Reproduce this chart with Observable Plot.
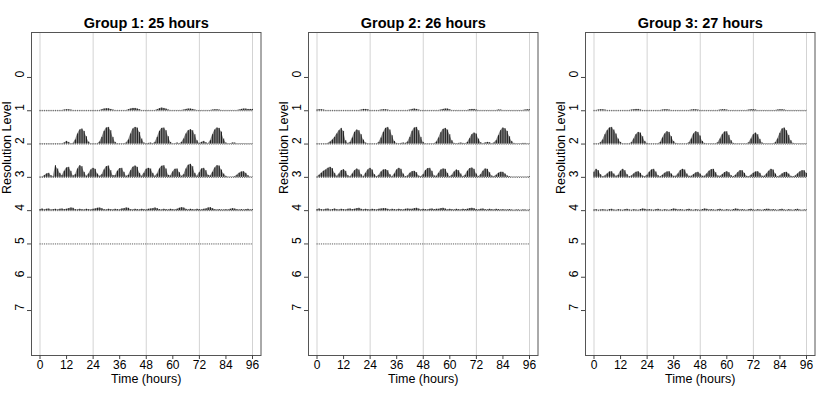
<!DOCTYPE html>
<html><head><meta charset="utf-8">
<script src="https://cdn.jsdelivr.net/npm/d3@7"></script>
<script src="https://cdn.jsdelivr.net/npm/@observablehq/plot@0.6"></script>
<style>body{margin:0;background:#fff} #row{display:flex;width:830px;height:395px}</style>
</head><body><div id="row"></div>
<script>
const titles = ["Group 1: 25 hours", "Group 2: 26 hours", "Group 3: 27 hours"];
const xTicks = [0, 12, 24, 36, 48, 60, 72, 84, 96];
const gridTicks = [0, 24, 48, 72, 96];
const levelTicks = [0, 1, 2, 3, 4, 5, 6, 7];
const times = d3.range(0, 97); // hourly sample positions
const baselineLevels = [[1, 2, 3, 4, 5], [1, 2, 3, 4, 5], [1, 2, 3, 4]];

// coefficient magnitudes (in level units), hourly, levels 1..4
const g1L1 = [.01,.01,.01,.01,.01,.01,.01,.01,.01,.01, .01,.02,.03,.03,.02,.01,.01,.01,.01,.01, .01,.01,.01,.01,.01,.01,.01,.01,.03,.05, .06,.06,.04,.02,.01,.01,.01,.01,.01,.01, .03,.05,.07,.07,.05,.03,.01,.01,.01,.01, .01,.01,.01,.03,.06,.08,.07,.05,.02,.01, .01,.01,.01,.01,.01,.02,.04,.05,.05,.04, .02,.01,.01,.01,.01,.01,.01,.01,.02,.03, .03,.02,.01,.01,.01,.01,.01,.01,.01,.01, .02,.04,.05,.05,.04,.04,.04];
const g1L2 = [.01,.01,.01,.01,.01,.01,.01,.01,.01,.01, .01,.03,.08,.05,.01,.02,.12,.30,.42,.45, .38,.22,.06,.01,.01,.01,.01,.06,.20,.38, .48,.50,.40,.20,.05,.01,.01,.01,.01,.03, .12,.30,.45,.50,.48,.35,.15,.03,.01,.02, .03,.01,.05,.20,.38,.47,.48,.40,.22,.05, .01,.01,.03,.01,.05,.15,.30,.40,.43,.40, .28,.10,.02,.05,.08,.04,.01,.10,.28,.42, .48,.47,.36,.15,.03,.01,.01,.03,.03,.01, .01,.01,.01,.01,.01,.01,.01];
const g1L3 = [.01,.01,.05,.10,.12,.05,.02,.35,.25,.12, .05,.18,.28,.30,.18,.04,.08,.25,.35,.32, .15,.03,.10,.22,.27,.24,.10,.03,.08,.22, .32,.34,.20,.05,.05,.18,.26,.27,.15,.03, .06,.20,.30,.34,.30,.12,.03,.12,.24,.27, .25,.12,.03,.10,.25,.33,.35,.25,.06,.04, .16,.24,.25,.14,.03,.08,.25,.36,.39,.32, .12,.03,.14,.25,.27,.20,.06,.04,.15,.28, .35,.34,.22,.10,.03,.01,.01,.01,.02,.06, .12,.16,.17,.12,.05,.01,.01];
const g1L4 = [.03,.05,.02,.04,.05,.02,.03,.04,.02,.04, .05,.03,.04,.06,.08,.07,.03,.02,.04,.03, .02,.04,.03,.02,.04,.05,.07,.08,.06,.03, .02,.04,.03,.02,.04,.03,.02,.05,.06,.08, .07,.03,.02,.04,.03,.02,.04,.03,.02,.04, .05,.06,.08,.06,.03,.02,.04,.03,.02,.04, .03,.02,.04,.07,.09,.08,.04,.02,.04,.03, .02,.04,.03,.02,.04,.05,.08,.09,.06,.03, .02,.03,.02,.02,.03,.02,.04,.06,.05,.03, .02,.03,.02,.03,.04,.02,.03];

const g2L1 = [.02,.03,.03,.02,.01,.01,.01,.01,.01,.01, .01,.01,.01,.01,.01,.01,.01,.01,.01,.01, .02,.04,.04,.03,.01,.01,.01,.01,.01,.02, .03,.03,.02,.01,.01,.01,.01,.01,.01,.01, .01,.01,.02,.04,.05,.04,.02,.01,.01,.01, .01,.01,.01,.01,.01,.01,.02,.04,.05,.05, .03,.01,.01,.01,.01,.01,.01,.01,.01,.03, .04,.04,.02,.01,.01,.01,.01,.01,.01,.01, .01,.01,.02,.02,.01,.01,.01,.01,.01,.01, .01,.01,.01,.01,.02,.03,.03];
const g2L2 = [.01,.01,.01,.01,.01,.02,.06,.12,.20,.30, .40,.47,.38,.10,.02,.05,.18,.35,.42,.40, .28,.12,.03,.01,.01,.01,.01,.01,.05,.18, .35,.47,.50,.42,.25,.08,.02,.01,.02,.03, .02,.06,.20,.38,.48,.50,.40,.20,.05,.01, .01,.01,.01,.01,.06,.18,.34,.44,.47,.42, .28,.10,.02,.01,.02,.03,.02,.01,.05,.16, .28,.33,.30,.15,.04,.01,.03,.05,.04,.01, .03,.10,.25,.40,.48,.46,.38,.22,.08,.02, .01,.01,.01,.02,.02,.01,.01];
const g2L3 = [.01,.06,.12,.18,.22,.27,.30,.26,.12,.03, .10,.20,.23,.18,.05,.02,.10,.20,.25,.22, .08,.02,.12,.22,.27,.22,.08,.02,.06,.16, .22,.23,.20,.08,.02,.10,.22,.27,.24,.10, .02,.04,.12,.17,.18,.14,.04,.02,.08,.20, .26,.27,.18,.04,.03,.12,.22,.25,.24,.12, .02,.06,.16,.22,.20,.10,.02,.06,.18,.26, .28,.24,.10,.02,.08,.18,.25,.24,.14,.04, .02,.06,.12,.15,.15,.10,.04,.02,.01,.01, .01,.01,.01,.01,.01,.01,.02];
const g2L4 = [.03,.05,.03,.02,.04,.05,.02,.03,.05,.03, .02,.04,.03,.02,.04,.05,.03,.04,.06,.07, .04,.02,.04,.03,.02,.04,.03,.02,.04,.05, .06,.06,.04,.02,.04,.03,.02,.04,.03,.02, .04,.05,.04,.04,.06,.07,.05,.02,.04,.03, .02,.04,.05,.03,.04,.04,.06,.07,.05,.02, .04,.03,.02,.04,.03,.02,.04,.03,.04,.06, .07,.06,.03,.02,.04,.05,.03,.02,.04,.03, .02,.04,.03,.02,.03,.02,.02,.03,.02,.01, .02,.02,.01,.02,.02,.01,.02];

const g3L1 = [.01,.01,.02,.03,.03,.02,.01,.01,.01,.01, .01,.01,.01,.01,.01,.01,.01,.02,.03,.04, .04,.02,.01,.01,.01,.01,.01,.01,.01,.01, .01,.02,.03,.03,.02,.01,.01,.01,.01,.01, .01,.01,.01,.01,.02,.03,.03,.02,.01,.01, .01,.01,.01,.01,.01,.01,.01,.02,.03,.03, .02,.01,.01,.01,.01,.01,.01,.01,.01,.01, .02,.03,.03,.02,.01,.01,.01,.01,.01,.01, .01,.01,.01,.02,.03,.03,.02,.01,.01,.01, .01,.01,.01,.01,.01,.01,.01];
const g3L2 = [.01,.01,.01,.04,.12,.28,.40,.48,.50,.42, .30,.15,.05,.01,.01,.01,.01,.04,.15,.28, .35,.33,.22,.08,.02,.01,.01,.01,.01,.01, .05,.18,.30,.37,.35,.22,.08,.02,.01,.01, .01,.01,.01,.04,.15,.30,.37,.35,.24,.08, .02,.01,.01,.01,.01,.01,.04,.15,.28,.36, .37,.26,.10,.02,.01,.01,.01,.01,.01,.01, .04,.15,.28,.33,.28,.14,.03,.01,.01,.01, .01,.01,.04,.15,.32,.45,.48,.40,.26,.10, .02,.01,.01,.01,.01,.01,.01];
const g3L3 = [.15,.24,.20,.08,.02,.04,.10,.16,.17,.10, .03,.06,.18,.24,.20,.08,.02,.04,.10,.15, .17,.12,.04,.02,.06,.15,.22,.24,.16,.05, .02,.06,.12,.16,.17,.10,.03,.03,.10,.20, .24,.22,.10,.03,.03,.08,.13,.15,.10,.03, .03,.10,.18,.23,.24,.14,.04,.03,.08,.14, .17,.14,.05,.02,.06,.14,.20,.20,.12,.03, .02,.06,.12,.16,.17,.12,.03,.03,.10,.18, .24,.22,.10,.02,.04,.10,.14,.15,.10,.03, .02,.04,.10,.16,.20,.20,.12];
const g3L4 = [.02,.03,.01,.02,.03,.02,.01,.03,.04,.02, .01,.03,.02,.01,.03,.04,.02,.01,.03,.02, .01,.03,.05,.04,.02,.03,.02,.01,.03,.04, .02,.01,.03,.02,.01,.03,.05,.04,.02,.03, .02,.01,.03,.04,.02,.01,.03,.02,.01,.03, .05,.04,.02,.03,.02,.01,.03,.04,.02,.01, .03,.02,.01,.03,.05,.04,.02,.03,.02,.01, .03,.04,.02,.01,.03,.02,.01,.03,.04,.04, .02,.03,.02,.01,.03,.04,.02,.01,.03,.02, .01,.03,.04,.02,.01,.02,.02];

const groupLevels = [[g1L1, g1L2, g1L3, g1L4], [g2L1, g2L2, g2L3, g2L4], [g3L1, g3L2, g3L3, g3L4]];
const panelWidths = [277, 277, 276];
const font = "Liberation Sans, Arial, Helvetica, sans-serif";

groupLevels.forEach((lv, k) => {
  const rows = [];
  lv.forEach((arr, j) => arr.forEach((v, i) => rows.push({t: times[i], level: j + 1, top: j + 1 - v})));
  const w = panelWidths[k];
  const chart = Plot.plot({
    width: w, height: 395,
    marginTop: 32, marginBottom: 40, marginLeft: 31, marginRight: w - 260.5,
    style: {fontFamily: font, background: "white", color: "black"},
    x: {domain: [-3.84, 99.84]},
    y: {domain: [8.35, -1.35]},
    marks: [
      Plot.ruleX(gridTicks, {stroke: "#d3d3d3", strokeWidth: 1}),
      Plot.ruleY(baselineLevels[k], {x1: 0, x2: 96, stroke: "#333", strokeWidth: 0.8, strokeDasharray: "1.2,1"}),
      Plot.areaY(rows, {x: "t", y1: "level", y2: "top", z: "level", fill: "#8a8a8a"}),
      Plot.ruleX(rows, {x: "t", y1: "level", y2: "top", stroke: "black", strokeWidth: 0.8}),
      Plot.frame({stroke: "#555", strokeWidth: 1}),
      Plot.axisX({ticks: xTicks, tickSize: 4, tickPadding: 1, fontSize: 12, label: null, stroke: "#444"}),
      Plot.axisY({ticks: levelTicks, tickSize: 4, tickFormat: () => "", label: null, stroke: "#444"}),
      Plot.text(levelTicks, {y: d => d, text: d => String(d), frameAnchor: "left", dx: -11, rotate: -90, fontSize: 12}),
      Plot.text(["Resolution Level"], {frameAnchor: "left", dx: -25, rotate: -90, fontSize: 12.5}),
      Plot.text(["Time (hours)"], {frameAnchor: "bottom", dy: 27, fontSize: 12.5}),
      Plot.text([titles[k]], {frameAnchor: "top", dy: -15, fontSize: 14.5, fontWeight: "bold"})
    ]
  });
  document.getElementById("row").appendChild(chart);
});
</script>
</body></html>
